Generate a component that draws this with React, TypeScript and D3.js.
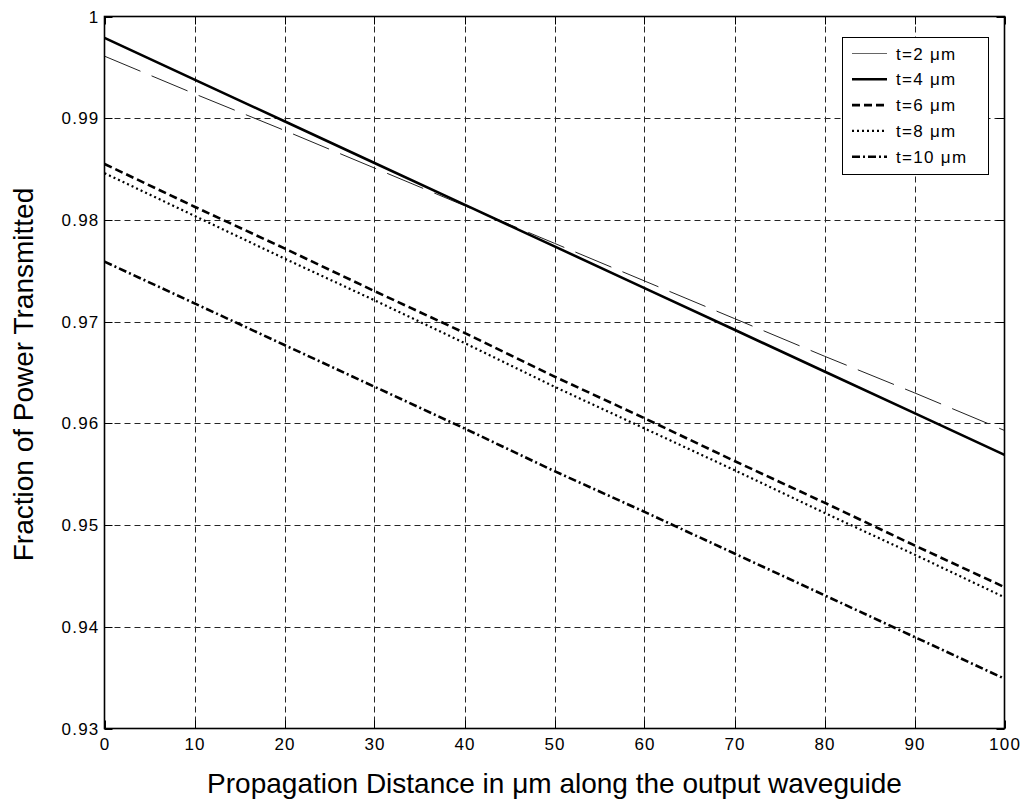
import React from 'react';
import * as d3 from 'd3';

// distance along the output waveguide (um)
const distances = [0, 10, 20, 30, 40, 50, 60, 70, 80, 90, 100];

const t2 = [0.9961, 0.9924, 0.9888, 0.9851, 0.9814, 0.9777, 0.974, 0.9703, 0.9666, 0.963, 0.9593];
const t4 = [0.9979, 0.9938, 0.9897, 0.9856, 0.9815, 0.9774, 0.9733, 0.9692, 0.9651, 0.961, 0.9569];
const t6 = [0.9855, 0.9813, 0.9772, 0.973, 0.9689, 0.9646, 0.9605, 0.9563, 0.9522, 0.948, 0.9439];
const t8 = [0.9846, 0.9804, 0.9762, 0.9721, 0.9679, 0.9636, 0.9595, 0.9554, 0.9512, 0.9471, 0.9429];
const t10 = [0.9759, 0.9718, 0.9677, 0.9636, 0.9595, 0.9553, 0.9513, 0.9472, 0.9431, 0.939, 0.9349];

const seriesLabels = ['t=2 μm', 't=4 μm', 't=6 μm', 't=8 μm', 't=10 μm'];

const xTicks = [0, 10, 20, 30, 40, 50, 60, 70, 80, 90, 100];
const yTicks = [0.93, 0.94, 0.95, 0.96, 0.97, 0.98, 0.99, 1];
const yTickLabels = ['0.93', '0.94', '0.95', '0.96', '0.97', '0.98', '0.99', '1'];

const FONT = '"Liberation Sans", Arial, Helvetica, sans-serif';

// line styles per series (plot dash differs from legend for t=2, like the original render)
const styles = [
  { dash: '39,12', legendDash: 'none', width: 1, color: '#222', legendColor: '#666' },
  { dash: 'none', legendDash: 'none', width: 2.6, color: '#000', legendColor: '#000' },
  { dash: '8,4', legendDash: '8,4', width: 2.6, color: '#000', legendColor: '#000' },
  { dash: '2,3', legendDash: '2,3', width: 2.2, color: '#000', legendColor: '#000' },
  { dash: '8,3,2,3', legendDash: '8,3,2,3', width: 2.6, color: '#000', legendColor: '#000' },
];

const App: React.FC = () => {
  const width = 1024;
  const height = 808;
  const left = 104.5;
  const right = 1004.5;
  const top = 16.5;
  const bottom = 728.5;

  const x = d3.scaleLinear().domain([0, 100]).range([left, right]);
  const y = d3.scaleLinear().domain([0.93, 1]).range([bottom, top]);

  const allSeries = [t2, t4, t6, t8, t10];
  const line = d3.line<number>()
    .x((d, i) => x(distances[i]))
    .y(d => y(d));

  const tickLen = 8;
  const gridDash = '6,4';

  // legend box
  const lgX = 842.5, lgY = 37.5, lgW = 146, lgH = 137;
  const rowY = (i: number) => 53.5 + i * 25.8;

  return (
    <svg width={width} height={height} style={{ position: 'absolute', left: 0, top: 0, background: '#fff' }}>
      <rect x={0} y={0} width={width} height={height} fill="#fff" />
      {/* grid */}
      <g stroke="#000" strokeWidth={1} strokeDasharray={gridDash} opacity={0.85}>
        {xTicks.slice(1, -1).map(t => (
          <line key={'gx' + t} x1={Math.round(x(t)) + 0.5} x2={Math.round(x(t)) + 0.5} y1={top} y2={bottom} />
        ))}
        {yTicks.slice(1, -1).map(t => (
          <line key={'gy' + t} x1={left} x2={right} y1={Math.round(y(t)) + 0.5} y2={Math.round(y(t)) + 0.5} />
        ))}
      </g>
      {/* ticks */}
      <g stroke="#000" strokeWidth={1}>
        {xTicks.map(t => (
          <g key={'tx' + t}>
            <line x1={Math.round(x(t)) + 0.5} x2={Math.round(x(t)) + 0.5} y1={bottom} y2={bottom - tickLen} />
            <line x1={Math.round(x(t)) + 0.5} x2={Math.round(x(t)) + 0.5} y1={top} y2={top + tickLen} />
          </g>
        ))}
        {yTicks.map(t => (
          <g key={'ty' + t}>
            <line x1={left} x2={left + tickLen} y1={Math.round(y(t)) + 0.5} y2={Math.round(y(t)) + 0.5} />
            <line x1={right} x2={right - tickLen} y1={Math.round(y(t)) + 0.5} y2={Math.round(y(t)) + 0.5} />
          </g>
        ))}
      </g>
      {/* series */}
      <g fill="none">
        {allSeries.map((s, i) => (
          <path key={'s' + i} d={line(s) || ''} stroke={styles[i].color} strokeWidth={styles[i].width}
            strokeDasharray={styles[i].dash} />
        ))}
      </g>
      {/* frame */}
      <rect x={left} y={top} width={right - left} height={bottom - top} fill="none" stroke="#000" strokeWidth={1.6} />
      {/* tick labels */}
      <g fontFamily={FONT} fontSize={17} fill="#000" letterSpacing={1.2}>
        {xTicks.map(t => (
          <text key={'lx' + t} x={x(t) + 0.6} y={bottom + 21} textAnchor="middle">{t}</text>
        ))}
        {yTicks.map((t, i) => (
          <text key={'ly' + t} x={left - 5} y={y(t) + 6} textAnchor="end">{yTickLabels[i]}</text>
        ))}
      </g>
      {/* axis titles */}
      <text x={(left + right) / 2} y={793} textAnchor="middle" fontFamily={FONT} fontSize={28}>
        Propagation Distance in μm along the output waveguide
      </text>
      <text transform={`translate(33,${(top + bottom) / 2 + 2}) rotate(-90)`} textAnchor="middle" fontFamily={FONT} fontSize={28}>
        Fraction of Power Transmitted
      </text>
      {/* legend */}
      <rect x={lgX} y={lgY} width={lgW} height={lgH} fill="#fff" stroke="#000" strokeWidth={1} />
      {seriesLabels.map((lab, i) => (
        <g key={'lg' + i}>
          <line x1={852} x2={887} y1={rowY(i)} y2={rowY(i)} stroke={styles[i].legendColor}
            strokeWidth={styles[i].width} strokeDasharray={styles[i].legendDash} />
          <text x={896} y={rowY(i) + 6} fontFamily={FONT} fontSize={17} letterSpacing={1.3}>{lab}</text>
        </g>
      ))}
    </svg>
  );
};

export default App;
